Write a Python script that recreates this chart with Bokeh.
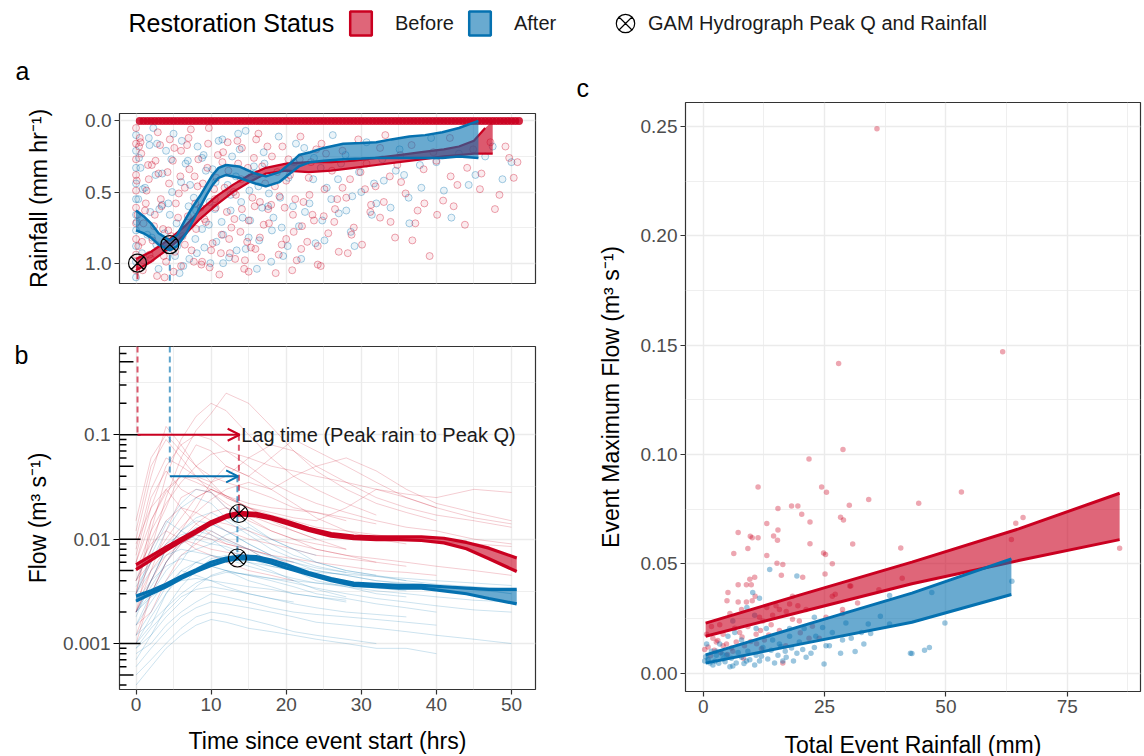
from bokeh.plotting import figure
from bokeh.layouts import column, row
from bokeh.models import (Range1d, FixedTicker, NumeralTickFormatter, CustomJSTickFormatter,
                          Label, Legend, LegendItem, Arrow, OpenHead, LinearAxis)
from bokeh.embed import file_html
from bokeh.resources import INLINE

FONT = "Liberation Sans"
RED = "#CA0020"
BLUE = "#0571B0"

# ---------------- data ----------------
status_labels = ["Before", "After"]

# panel a: rainfall intensity (mm/hr) vs hours since event start
rain_before_t = [
    0.1, 0.3, 0.6, 0.9, 1.2, 1.6, 2.0, 2.4, 2.9, 3.3,
    3.8, 4.2, 4.7, 5.1, 5.6, 6.0, 6.5, 7.0, 7.4, 7.9,
    8.3, 8.8, 9.3, 9.7, 10.2, 10.7, 11.1, 11.6, 12.1, 12.5,
    13.0, 13.5, 13.9, 14.4, 14.9, 15.3, 15.8, 16.3, 16.7, 17.2,
    17.7, 18.1, 18.6, 19.1, 19.5, 20.0, 20.5, 20.9, 21.4, 21.9,
    22.3, 22.8, 23.3, 23.7, 24.2, 24.7, 25.1, 25.6, 26.1, 26.5,
    27.0, 27.5, 28.0, 28.5, 29.0, 29.6, 30.1, 30.7, 31.3, 31.9,
    32.5, 33.2, 33.8, 34.5, 35.2, 35.9, 36.7, 37.5, 38.3, 39.1,
    40.0, 40.9, 41.8, 42.8, 43.8, 44.9, 46.0, 47.2, 48.4, 49.7,
    0.2, 0.7, 1.4, 2.2, 3.0, 3.7, 4.5, 5.3, 6.2, 7.1,
    8.0, 8.9, 9.8, 10.6, 11.5, 12.4, 13.3, 14.1, 15.0, 15.9,
    16.8, 17.6, 18.5, 19.4, 20.3, 21.2, 22.1, 23.0, 24.0, 25.0,
    0.4, 1.0, 1.8, 2.6, 3.4, 4.3, 5.0, 5.9, 6.8, 7.7,
    8.6, 9.5, 10.4, 11.3, 12.2, 13.1, 14.0, 14.8, 15.7, 16.5,
    0.0, 0.0, 0.0, 0.0, 0.0, 0.0, 0.0, 0.0, 0.0, 0.0,
    0.5, 1.3, 2.1, 2.8, 3.6, 4.4, 5.2, 6.0, 6.9, 7.8,
    8.7, 9.6, 10.5, 11.4, 12.3, 13.2, 14.1, 15.0, 16.0, 17.0,
    18.0, 19.0, 20.0, 21.0, 22.0, 23.1, 24.2, 25.3, 26.4, 27.5,
    28.7, 29.9, 31.2, 32.5, 33.9, 35.3, 36.8, 38.4, 40.1, 41.9,
    0.8, 1.7, 2.5, 3.2, 4.0, 4.9, 5.7, 6.5, 7.3, 8.2,
    9.1, 10.0, 10.9, 11.8, 12.7, 13.6, 14.5, 15.5, 16.5, 17.5,
    18.8, 19.8, 20.8, 21.8, 23.5, 24.6, 26.8, 28.2, 30.5, 33.0,
    34.8, 37.2, 39.6, 42.3, 44.1, 45.8, 47.8, 49.2, 50.3, 50.8,
]
rain_before_mm = [
    0.42, 0.88, 0.15, 1.05, 0.63, 0.31, 0.97, 0.74, 0.08, 0.55,
    1.10, 0.36, 0.81, 0.19, 0.68, 1.02, 0.47, 0.12, 0.91, 0.58,
    0.27, 0.99, 0.71, 0.05, 0.86, 0.40, 1.08, 0.22, 0.64, 0.93,
    0.50, 0.14, 0.78, 1.04, 0.33, 0.89, 0.60, 0.09, 0.96, 0.44,
    0.72, 0.25, 1.07, 0.53, 0.18, 0.83, 0.38, 0.66, 0.98, 0.11,
    0.57, 0.85, 0.29, 0.70, 1.01, 0.16, 0.48, 0.79, 0.35, 0.62,
    0.92, 0.21, 0.54, 0.41, 0.75, 0.13, 0.87, 0.30, 0.59, 0.46,
    0.68, 0.10, 0.39, 0.82, 0.24, 0.51, 0.17, 0.63, 0.34, 0.95,
    0.28, 0.56, 0.12, 0.45, 0.73, 0.20, 0.37, 0.15, 0.52, 0.26,
    0.66, 0.23, 0.49, 0.84, 0.37, 0.95, 0.13, 0.58, 0.81, 0.34,
    0.76, 0.44, 1.03, 0.61, 0.29, 0.83, 0.52, 0.19, 0.70, 0.90,
    0.32, 0.62, 0.46, 0.87, 0.27, 0.55, 0.74, 0.40, 0.20, 0.67,
    0.18, 0.72, 0.94, 0.28, 0.60, 0.77, 1.06, 0.39, 0.17, 0.99,
    0.61, 0.33, 0.48, 0.93, 0.15, 0.69, 0.41, 0.85, 0.26, 0.57,
    0.05, 0.16, 0.27, 0.38, 0.49, 0.61, 0.72, 0.83, 0.94, 1.05,
    0.12, 0.58, 0.31, 1.09, 0.76, 0.44, 0.92, 0.21, 0.67, 0.39,
    1.01, 0.16, 0.55, 0.80, 0.35, 0.97, 0.62, 1.06, 0.13, 0.73,
    0.59, 0.94, 0.42, 0.78, 0.90, 0.52, 0.88, 0.23, 0.71, 0.47,
    0.80, 0.36, 0.64, 0.19, 0.71, 0.43, 0.84, 0.58, 0.66, 0.39,
    0.85, 0.41, 0.66, 0.17, 0.99, 0.28, 0.51, 0.87, 0.06, 0.46,
    0.69, 0.91, 0.24, 0.47, 0.75, 0.30, 0.98, 0.54, 0.82, 0.18,
    0.36, 0.61, 1.05, 0.27, 0.66, 1.02, 0.55, 0.93, 0.48, 0.57,
    0.31, 0.72, 0.22, 0.60, 0.33, 0.48, 0.62, 0.18, 0.40, 0.29,
]
rain_after_t = [
    0.1, 0.4, 0.8, 1.2, 1.7, 2.1, 2.6, 3.0, 3.5, 4.0,
    4.5, 5.0, 5.5, 6.0, 6.6, 7.1, 7.7, 8.2, 8.8, 9.3,
    9.9, 10.5, 11.0, 11.6, 12.2, 12.8, 13.4, 14.0, 14.6, 15.2,
    15.8, 16.4, 17.0, 17.7, 18.3, 19.0, 19.6, 20.3, 21.0, 21.7,
    22.4, 23.1, 23.9, 24.6, 25.4, 26.2, 27.0, 27.9, 28.8, 29.7,
    30.7, 31.7, 32.8, 33.9, 35.1, 36.4, 37.8, 39.3, 41.0, 43.0,
    45.2, 47.5, 50.0, 0.3, 1.0, 1.9, 2.8, 3.8, 4.8, 5.8,
    6.9, 8.0, 9.1, 10.2, 11.4, 12.6, 13.8, 15.0, 16.3, 17.6,
    0.0, 0.0, 0.0, 0.0, 0.0, 0.0, 0.0, 0.0, 0.0, 0.0,
    0.6, 1.5, 2.3, 3.1, 3.9, 4.7, 5.4, 6.3, 7.2, 8.1,
    9.0, 9.8, 10.7, 11.5, 12.4, 13.3, 14.2, 15.1, 16.1, 17.1,
    18.1, 19.2, 20.2, 21.3, 22.5, 23.6, 24.8, 26.0, 27.3, 28.6,
    30.0, 31.4, 33.0, 34.6, 36.3, 38.0, 40.0, 42.0, 44.3, 46.5,
    0.9, 1.8, 2.7, 3.5, 4.3, 5.2, 6.1, 7.0, 7.9, 8.8,
    9.7, 10.6, 11.6, 12.6, 13.6, 14.6, 15.7, 16.8, 18.0, 19.4,
    20.9, 22.0, 23.7, 25.1, 26.9, 28.0, 29.1, 32.0, 35.7, 48.8,
]
rain_after_mm = [
    0.71, 0.26, 0.93, 0.47, 0.12, 0.82, 0.38, 1.04, 0.59, 0.21,
    0.66, 0.09, 0.88, 0.43, 0.30, 0.97, 0.54, 0.18, 0.76, 0.35,
    1.00, 0.62, 0.14, 0.80, 0.45, 0.25, 0.91, 0.57, 0.07, 0.70,
    0.37, 0.84, 0.22, 0.51, 0.68, 0.11, 0.95, 0.40, 0.29, 0.74,
    0.19, 0.58, 0.86, 0.33, 0.47, 0.10, 0.65, 0.24, 0.53, 0.36,
    0.15, 0.44, 0.27, 0.61, 0.20, 0.72, 0.31, 0.12, 0.49, 0.23,
    0.38, 0.18, 0.29, 0.55, 0.98, 0.64, 0.16, 0.79, 0.50, 1.07,
    0.28, 0.63, 0.89, 0.34, 0.71, 0.52, 0.20, 0.82, 0.46, 0.60,
    0.10, 0.21, 0.33, 0.44, 0.55, 0.66, 0.77, 0.88, 0.99, 1.10,
    0.33, 0.80, 0.05, 0.62, 0.90, 0.27, 0.72, 1.02, 0.45, 0.93,
    0.24, 0.57, 0.85, 0.13, 0.96, 0.39, 0.68, 0.49, 1.04, 0.30,
    0.77, 0.54, 0.88, 0.16, 0.64, 0.41, 0.70, 0.55, 0.30, 0.78,
    0.50, 0.66, 0.42, 0.35, 0.54, 0.47, 0.29, 0.68, 0.45, 0.25,
    0.48, 0.17, 0.87, 0.37, 0.58, 0.95, 0.14, 0.60, 0.83, 0.26,
    0.73, 0.43, 1.00, 0.63, 0.09, 0.90, 0.32, 0.61, 0.99, 0.75,
    0.60, 0.97, 0.26, 0.84, 0.41, 0.63, 0.88, 0.58, 0.38, 0.41,
]
# hours with zero rainfall recorded (dense row at 0)
zero_rain_hours = [
    0.5, 1.0, 1.5, 2.0, 2.5, 3.0, 3.5, 4.0, 4.5, 5.0, 5.5, 6.0, 6.5, 7.0, 7.5, 8.0, 8.5,
    9.0, 9.5, 10.0, 10.5, 11.0, 11.5, 12.0, 12.5, 13.0, 13.5, 14.0, 14.5, 15.0, 15.5, 16.0,
    16.5, 17.0, 17.5, 18.0, 18.5, 19.0, 19.5, 20.0, 20.5, 21.0, 21.5, 22.0, 22.5, 23.0, 23.5,
    24.0, 24.5, 25.0, 25.5, 26.0, 26.5, 27.0, 27.5, 28.0, 28.5, 29.0, 29.5, 30.0, 30.5, 31.0,
    31.5, 32.0, 32.5, 33.0, 33.5, 34.0, 34.5, 35.0, 35.5, 36.0, 36.5, 37.0, 37.5, 38.0, 38.5,
    39.0, 39.5, 40.0, 40.5, 41.0, 41.5, 42.0, 42.5, 43.0, 43.5, 44.0, 44.5, 45.0, 45.5, 46.0,
    46.5, 47.0, 47.5, 48.0, 48.5, 49.0, 49.5, 50.0, 50.5, 51.0,
]

# GAM of rainfall (confidence band edges)
gam_rain_before_t = [0, 2, 4.5, 6.5, 8.5, 10.7, 12.9, 15.1, 17.3, 20, 23, 26, 29, 32, 35, 38, 41, 43, 45, 46.5, 47.5]
gam_rain_before_lo = [0.97, 0.92, 0.83, 0.74, 0.63, 0.53, 0.45, 0.38, 0.33, 0.30, 0.29, 0.29, 0.28, 0.26, 0.24, 0.22, 0.20, 0.18, 0.14, 0.05, 0.0]
gam_rain_before_hi = [1.05, 0.99, 0.89, 0.80, 0.69, 0.59, 0.50, 0.43, 0.37, 0.35, 0.36, 0.35, 0.33, 0.31, 0.29, 0.27, 0.25, 0.24, 0.23, 0.23, 0.23]
gam_rain_after_t = [0, 1, 2, 3, 4.5, 5.5, 6.7, 7.6, 8.5, 9.4, 10.2, 11.0, 12, 13.7, 15.9, 17.3, 19.1, 20.5, 21.7, 23.2,
                    25, 27.6, 30, 32, 34, 36.4, 38.5, 40.8, 43, 45.6]
gam_rain_after_lo = [0.63, 0.67, 0.72, 0.79, 0.84, 0.80, 0.68, 0.60, 0.53, 0.45, 0.38, 0.33, 0.31, 0.32, 0.37, 0.39, 0.36, 0.30,
                     0.24, 0.22, 0.19, 0.16, 0.155, 0.15, 0.13, 0.11, 0.10, 0.08, 0.05, 0.0]
gam_rain_after_hi = [0.77, 0.79, 0.82, 0.87, 0.91, 0.88, 0.79, 0.70, 0.61, 0.52, 0.45, 0.40, 0.38, 0.40, 0.44, 0.46, 0.43, 0.37,
                     0.32, 0.29, 0.28, 0.27, 0.265, 0.26, 0.26, 0.26, 0.26, 0.26, 0.25, 0.26]
peak_rain_t = [0.2, 4.5]
peak_rain_mm = [1.0, 0.87]

# panel b: event hydrographs (m3/s)
hyd_t = [0, 2, 4, 6, 8, 10, 12, 15, 18, 21, 24, 28, 32, 36, 40, 45, 50]
hyd_before = [
    [0.003, 0.012, 0.04, 0.09, 0.15, 0.2, 0.17, 0.1, 0.06, 0.04, 0.03, 0.022, 0.017],
    [0.006, 0.02, 0.05, 0.08, 0.1, 0.09, 0.07, 0.05, 0.035, 0.027, 0.022, 0.018, 0.015, 0.013, 0.012, 0.01, 0.009],
    [0.002, 0.005, 0.012, 0.025, 0.03, 0.028, 0.022, 0.016, 0.012, 0.01, 0.008, 0.007, 0.006],
    [0.008, 0.03, 0.06, 0.05, 0.04, 0.035, 0.04, 0.06, 0.08, 0.07, 0.05, 0.035, 0.025, 0.02, 0.017, 0.015, 0.013],
    [0.001, 0.003, 0.006, 0.01, 0.014, 0.018, 0.02, 0.017, 0.014, 0.012, 0.01],
    [0.004, 0.008, 0.015, 0.02, 0.018, 0.015, 0.012, 0.01, 0.009, 0.008, 0.007, 0.0065, 0.006, 0.0055],
    [0.01, 0.04, 0.12, 0.08, 0.05, 0.035, 0.025, 0.02, 0.016],
    [0.002, 0.004, 0.008, 0.012, 0.02, 0.035, 0.05, 0.04, 0.03, 0.04, 0.05, 0.06, 0.045, 0.03, 0.022, 0.018, 0.015],
    [0.005, 0.009, 0.012, 0.01, 0.008, 0.007, 0.006, 0.005, 0.0045, 0.004],
    [0.003, 0.015, 0.03, 0.02, 0.014, 0.011, 0.009, 0.008, 0.007, 0.0065, 0.006, 0.0055, 0.005, 0.0048, 0.0045],
    [0.0015, 0.002, 0.004, 0.007, 0.009, 0.012, 0.01, 0.008, 0.006, 0.005],
    [0.007, 0.025, 0.045, 0.03, 0.025, 0.03, 0.025, 0.02, 0.018, 0.016, 0.015, 0.02, 0.03, 0.025, 0.02, 0.016, 0.014],
    [0.004, 0.006, 0.01, 0.016, 0.025, 0.03, 0.026, 0.02, 0.015, 0.012, 0.01, 0.008],
    [0.012, 0.05, 0.09, 0.06, 0.04, 0.028, 0.02, 0.015, 0.012, 0.01, 0.009, 0.008],
    [0.002, 0.008, 0.025, 0.06, 0.11, 0.16, 0.25, 0.2, 0.12, 0.07, 0.045, 0.03, 0.022, 0.018, 0.015],
    [0.009, 0.02, 0.03, 0.04, 0.035, 0.03, 0.026, 0.022, 0.02, 0.019, 0.018, 0.016, 0.014],
    [0.0012, 0.003, 0.006, 0.009, 0.011, 0.01, 0.009, 0.008, 0.007],
    [0.005, 0.012, 0.022, 0.035, 0.05, 0.065, 0.07, 0.06, 0.05, 0.045, 0.04, 0.035, 0.03, 0.027, 0.025, 0.03, 0.028],
    [0.003, 0.006, 0.009, 0.013, 0.018, 0.024, 0.03, 0.035, 0.03, 0.022, 0.016, 0.012, 0.01, 0.009],
    [0.015, 0.06, 0.1, 0.07, 0.05, 0.04, 0.035, 0.03, 0.025, 0.02, 0.018, 0.015],
    [0.002, 0.004, 0.007, 0.009, 0.012, 0.015, 0.014, 0.012, 0.01, 0.009, 0.008, 0.007, 0.0065, 0.006, 0.0055, 0.005, 0.0045],
    [0.004, 0.01, 0.02, 0.045, 0.08, 0.07, 0.05, 0.04, 0.06, 0.09, 0.07, 0.05, 0.035, 0.025, 0.02],
    [0.0025, 0.005, 0.008, 0.01, 0.009, 0.008, 0.0075, 0.007, 0.0065, 0.006],
    [0.006, 0.015, 0.028, 0.04, 0.038, 0.032, 0.026, 0.02, 0.017, 0.015, 0.013, 0.012, 0.011, 0.01, 0.0095, 0.009, 0.0085],
]
hyd_after = [
    [0.002, 0.004, 0.008, 0.012, 0.015, 0.014, 0.012, 0.009, 0.007, 0.006, 0.005, 0.0045, 0.004, 0.0038, 0.0036, 0.0034, 0.003],
    [0.001, 0.0015, 0.003, 0.005, 0.006, 0.0055, 0.005, 0.004, 0.0035, 0.003, 0.0028, 0.0025],
    [0.003, 0.006, 0.012, 0.02, 0.025, 0.022, 0.016, 0.012, 0.009, 0.007, 0.006, 0.005, 0.0045],
    [0.0008, 0.001, 0.0015, 0.002, 0.0025, 0.003, 0.0028, 0.0025, 0.0022, 0.002, 0.0019, 0.0018, 0.0017, 0.0016, 0.0015],
    [0.002, 0.003, 0.005, 0.007, 0.008, 0.009, 0.0085, 0.007, 0.006, 0.0055, 0.005, 0.0045, 0.004, 0.0037, 0.0035, 0.0033, 0.003],
    [0.0015, 0.0025, 0.004, 0.006, 0.01, 0.014, 0.012, 0.009, 0.007, 0.0055, 0.0045],
    [0.0005, 0.0007, 0.001, 0.0014, 0.0018, 0.002, 0.0019, 0.0017, 0.0015, 0.0013, 0.0012, 0.0011, 0.001],
    [0.003, 0.005, 0.007, 0.008, 0.0075, 0.007, 0.0065, 0.006, 0.0055, 0.005, 0.0048, 0.0046, 0.0044, 0.0042, 0.004, 0.0038, 0.0036],
    [0.0012, 0.002, 0.0035, 0.005, 0.0045, 0.004, 0.0035, 0.003, 0.0027, 0.0025],
    [0.004, 0.008, 0.015, 0.012, 0.01, 0.009, 0.011, 0.013, 0.01, 0.008, 0.006, 0.005, 0.0045, 0.004],
    [0.0006, 0.0009, 0.0013, 0.0018, 0.0022, 0.0025, 0.0024, 0.0022, 0.002, 0.0018, 0.0016, 0.0015, 0.0014, 0.0013, 0.0012, 0.0011, 0.001],
    [0.002, 0.0035, 0.006, 0.009, 0.011, 0.01, 0.008, 0.0065, 0.0055, 0.005, 0.0045, 0.004],
    [0.0009, 0.0012, 0.0018, 0.0025, 0.0035, 0.0045, 0.005, 0.0045, 0.004, 0.0035, 0.003, 0.0027, 0.0024, 0.0022, 0.002],
    [0.0025, 0.004, 0.0055, 0.0065, 0.006, 0.0055, 0.005, 0.0045, 0.0042, 0.004, 0.0038, 0.0036, 0.0034, 0.0032],
    [0.0015, 0.003, 0.006, 0.01, 0.013, 0.012, 0.01, 0.008, 0.006, 0.005, 0.004, 0.0035, 0.003, 0.0028],
    [0.0004, 0.0006, 0.0009, 0.0012, 0.0015, 0.0017, 0.0016, 0.0014, 0.0013, 0.0012, 0.0011, 0.001, 0.0009, 0.0009, 0.0008],
    [0.003, 0.007, 0.014, 0.022, 0.03, 0.028, 0.02, 0.014, 0.01, 0.008, 0.007],
    [0.001, 0.0018, 0.003, 0.0045, 0.006, 0.007, 0.0065, 0.0055, 0.0048, 0.0042, 0.0038, 0.0035, 0.0032, 0.003, 0.0028, 0.0026, 0.0025],
    [0.002, 0.0028, 0.0035, 0.004, 0.0042, 0.004, 0.0038, 0.0035, 0.0033, 0.003, 0.0028, 0.0026],
    [0.0007, 0.0012, 0.0022, 0.0035, 0.005, 0.0065, 0.007, 0.006, 0.005, 0.004, 0.0033, 0.0028],
    [0.0035, 0.006, 0.009, 0.011, 0.012, 0.011, 0.0095, 0.008, 0.0068, 0.006, 0.0053, 0.0048, 0.0044, 0.004, 0.0037, 0.0035, 0.0033],
    [0.0009, 0.0014, 0.002, 0.0028, 0.0033, 0.0035, 0.0033, 0.003, 0.0027, 0.0024, 0.0022, 0.002, 0.0019, 0.0018],
    [0.0018, 0.004, 0.008, 0.012, 0.016, 0.018, 0.015, 0.011, 0.008, 0.0065, 0.0055, 0.0048],
    [0.0012, 0.0016, 0.0022, 0.003, 0.0038, 0.0044, 0.0048, 0.0046, 0.0042, 0.0038, 0.0034, 0.003, 0.0027, 0.0025, 0.0023, 0.0021, 0.002],
]
gam_q_t = [0, 2, 4, 6, 8, 10, 12, 13.7, 16, 18, 20, 23, 26, 29, 32, 35, 38, 41, 44, 47, 50.7]
gam_q_before_lo = [0.0051, 0.0063, 0.0078, 0.0095, 0.0115, 0.0139, 0.0161, 0.0171, 0.0167, 0.0156, 0.0141,
                   0.0121, 0.0107, 0.0101, 0.0099, 0.0099, 0.0097, 0.0092, 0.0081, 0.0065, 0.0049]
gam_q_before_hi = [0.0057, 0.0069, 0.0084, 0.0101, 0.0121, 0.0147, 0.0169, 0.0181, 0.0177, 0.0164, 0.0149,
                   0.0127, 0.0113, 0.0107, 0.0105, 0.0105, 0.0105, 0.0102, 0.0093, 0.0082, 0.0066]
gam_q_after_lo = [0.00255, 0.0030, 0.0035, 0.0042, 0.0049, 0.0056, 0.0062, 0.0065, 0.0064, 0.0059, 0.0053,
                  0.0046, 0.0040, 0.0036, 0.0035, 0.0034, 0.0034, 0.0032, 0.0030, 0.0027, 0.0024]
gam_q_after_hi = [0.00285, 0.0032, 0.0037, 0.0044, 0.0051, 0.0060, 0.0066, 0.0069, 0.0068, 0.0063, 0.0057,
                  0.0048, 0.0042, 0.0038, 0.0037, 0.0036, 0.0036, 0.0035, 0.0034, 0.0033, 0.0033]
peak_q_t = [13.7, 13.5]
peak_q = [0.0176, 0.0066]
lag_arrow_q = [0.1, 0.04]

# panel c: event totals
event_rain_before = [
    0.3, 2.0, 4.1, 4.8, 6.1, 6.8, 8.5, 9.2, 10.9, 12.3,
    14.0, 15.7, 16.4, 15.0, 17.1, 18.4, 19.8, 21.8, 23.9, 25.3,
    28.7, 28.7, 31.8, 27.2, 41.0, 36.2, 30.4, 26.6, 25.2, 20.5,
    16.1, 15.2, 13.1, 16.4, 10.6, 9.6, 8.9, 9.9, 7.2, 5.1,
    4.9, 7.2, 8.9, 10.1, 10.7, 6.3, 7.2, 9.2, 9.7, 10.1,
    11.3, 13.1, 14.5, 15.3, 15.4, 15.4, 18.2, 19.5, 20.3, 22.0,
    22.0, 11.3, 24.4, 25.4, 30.1, 34.1, 44.4, 28.3, 28.9, 30.8,
    40.7, 24.8, 25.1, 30.2, 18.4, 17.8, 15.7, 14.3, 13.1, 11.6,
    7.9, 5.5, 3.4, 1.7, 0.7, 2.7, 4.1, 7.5, 12.6, 19.5,
    21.2, 26.6, 53.2, 64.4, 65.9, 63.5, 85.8, 61.7, 35.8, 27.9,
    28.8, 21.8, 1.0, 2.3, 3.0, 5.8, 6.5, 8.0, 11.0, 13.5,
    1.5, 3.6, 5.0, 9.8, 12.0, 17.0, 20.0, 22.5, 8.3, 11.8,
]
event_q_before = [
    0.0108, 0.0160, 0.0178, 0.0134, 0.0100, 0.0143, 0.0125, 0.0213, 0.0178, 0.0239,
    0.0221, 0.0195, 0.0047, 0.0308, 0.0282, 0.0247, 0.0239, 0.0160, 0.0160, 0.0256,
    0.0291, 0.0273, 0.0321, 0.0361, 0.0434, 0.0382, 0.0399, 0.0500, 0.0543, 0.0439,
    0.0448, 0.0503, 0.0538, 0.0497, 0.0439, 0.0430, 0.0404, 0.0404, 0.0404, 0.0369,
    0.0331, 0.0326, 0.0326, 0.0331, 0.0352, 0.0547, 0.0643, 0.0570, 0.0626, 0.0619,
    0.0619, 0.0685, 0.0628, 0.0608, 0.0655, 0.0753, 0.0765, 0.0765, 0.0727, 0.0692,
    0.0592, 0.0852, 0.0852, 0.0828, 0.0768, 0.0794, 0.0777, 0.0713, 0.0701, 0.0591,
    0.0573, 0.0550, 0.0454, 0.0399, 0.0352, 0.0317, 0.0291, 0.0265, 0.0300, 0.0256,
    0.0291, 0.0273, 0.0221, 0.0213, 0.0178, 0.0143, 0.0125, 0.0186, 0.0152, 0.0308,
    0.0291, 0.0352, 0.0829, 0.0686, 0.0712, 0.0612, 0.0572, 0.1470, 0.2490, 0.1416,
    0.1023, 0.0980, 0.0120, 0.0105, 0.0150, 0.0115, 0.0205, 0.0165, 0.0135, 0.0175,
    0.0080, 0.0095, 0.0085, 0.0145, 0.0112, 0.0125, 0.0185, 0.0215, 0.0068, 0.0195,
]
event_rain_after = [
    49.8, 42.7, 45.6, 46.6, 47.1, 63.6, 38.4, 38.4, 36.5, 34.5,
    33.1, 32.6, 31.3, 28.3, 28.7, 24.9, 25.3, 24.6, 22.9, 22.2,
    21.2, 22.9, 19.3, 18.6, 16.4, 16.9, 15.4, 13.7, 19.3, 11.6,
    10.2, 9.0, 10.6, 13.0, 14.3, 12.3, 10.9, 8.9, 6.8, 5.5,
    4.1, 2.7, 1.7, 0.7, 1.4, 3.4, 5.1, 6.5, 7.9, 9.2,
    11.6, 13.3, 15.7, 17.8, 19.8, 20.8, 23.2, 26.6, 29.4, 17.8,
    10.9, 6.1, 2.7, 4.8, 7.9, 0.3, 2.0, 6.1, 10.6, 14.7,
    17.1, 0.5, 1.0, 2.4, 3.2, 3.9, 4.5, 5.8, 7.2, 8.4,
    9.6, 12.0, 14.0, 16.0, 18.2, 20.5, 26.0, 30.5, 34.0, 43.0,
]
event_q_after = [
    0.0230, 0.0091, 0.0105, 0.0117, 0.0369, 0.0421, 0.0355, 0.0225, 0.0260, 0.0181,
    0.0134, 0.0186, 0.0099, 0.0091, 0.0152, 0.0042, 0.0125, 0.0209, 0.0117, 0.0091,
    0.0073, 0.0256, 0.0091, 0.0056, 0.0056, 0.0100, 0.0082, 0.0474, 0.0444, 0.0343,
    0.0369, 0.0300, 0.0265, 0.0204, 0.0152, 0.0117, 0.0082, 0.0056, 0.0047, 0.0030,
    0.0065, 0.0082, 0.0100, 0.0134, 0.0047, 0.0134, 0.0169, 0.0186, 0.0152, 0.0100,
    0.0056, 0.0065, 0.0134, 0.0169, 0.0143, 0.0204, 0.0169, 0.0186, 0.0230, 0.0204,
    0.0204, 0.0239, 0.0100, 0.0082, 0.0073, 0.0056, 0.0038, 0.0033, 0.0038, 0.0047,
    0.0073, 0.0075, 0.0062, 0.0055, 0.0045, 0.0088, 0.0052, 0.0068, 0.0095, 0.0044,
    0.0062, 0.0078, 0.0105, 0.0122, 0.0115, 0.0108, 0.0125, 0.0160, 0.0225, 0.0090,
]
fit_before_x = [0.5, 20, 43, 65, 85.8]
fit_before_lo = [0.0169, 0.0280, 0.0409, 0.0515, 0.0611]
fit_before_hi = [0.0229, 0.0358, 0.0508, 0.0660, 0.0823]
fit_after_x = [0.5, 20, 43, 63.5]
fit_after_lo = [0.0046, 0.0133, 0.0233, 0.0360]
fit_after_hi = [0.0084, 0.0214, 0.0366, 0.0523]

x_ticks_hours = [0, 10, 20, 30, 40, 50]
x_minor_hours = [5, 15, 25, 35, 45]


# ---------------- helpers ----------------
def style(p):
    p.background_fill_color = "white"
    p.border_fill_color = "white"
    p.outline_line_color = "#333333"
    p.outline_line_width = 1.2
    for g in p.grid:
        g.grid_line_color = "#EBEBEB"
        g.grid_line_width = 1.4
        g.minor_grid_line_color = "#EBEBEB"
        g.minor_grid_line_width = 0.8
    for ax in p.axis:
        ax.axis_line_color = None
        ax.major_tick_line_color = "#333333"
        ax.major_tick_line_width = 1.2
        ax.major_tick_out = 5
        ax.major_tick_in = 0
        ax.minor_tick_line_color = None
        ax.major_label_text_font = FONT
        ax.major_label_text_font_size = "19px"
        ax.major_label_text_color = "#4D4D4D"
        ax.major_label_standoff = 3
        ax.axis_label_text_font = FONT
        ax.axis_label_text_font_size = "23px"
        ax.axis_label_text_font_style = "normal"
        ax.axis_label_text_color = "black"


def letter_title(p, text, offset, standoff, valign):
    p.title.text = text
    p.title.align = "left"
    p.title.offset = offset
    p.title.standoff = standoff
    p.title.vertical_align = valign
    p.title.text_font = FONT
    p.title.text_font_size = "25px"
    p.title.text_font_style = "normal"
    p.title.text_color = "black"


# ---------------- legend strip ----------------
lf = figure(width=1144, height=52, x_range=Range1d(0, 1), y_range=Range1d(0, 1),
            x_axis_location=None, y_axis_location=None, min_border=0,
            toolbar_location=None, output_backend="svg")
lf.grid.visible = False
lf.outline_line_color = None
# legend proxies (placed outside the visible range)
r_leg_before = lf.quad(left=[5], right=[6], top=[6], bottom=[5], fill_color=RED, fill_alpha=0.6,
                       line_color=RED, line_width=2.5)
r_leg_after = lf.quad(left=[5], right=[6], top=[6], bottom=[5], fill_color=BLUE, fill_alpha=0.6,
                      line_color=BLUE, line_width=2.5)
r_leg_peak = lf.scatter(x=[5], y=[5], marker="circle_x", size=18, fill_color=None,
                        line_color="black", line_width=1.2)
lf.add_layout(Label(x=128, y=30, x_units="screen", y_units="screen", text="Restoration Status",
                    text_font=FONT, text_font_size="25px", text_baseline="middle", text_color="black"))
leg1 = Legend(items=[LegendItem(label=status_labels[0], renderers=[r_leg_before]),
                     LegendItem(label=status_labels[1], renderers=[r_leg_after])],
              orientation="horizontal", location=(347, 14), glyph_width=27, glyph_height=30,
              label_standoff=21, spacing=12, padding=0, margin=0, border_line_color=None,
              background_fill_alpha=0, label_text_font=FONT, label_text_font_size="20px",
              label_text_color="#1A1A1A")
leg2 = Legend(items=[LegendItem(label="GAM Hydrograph Peak Q and Rainfall", renderers=[r_leg_peak])],
              orientation="horizontal", location=(602, 6), glyph_width=46, glyph_height=46,
              label_standoff=0, padding=0, margin=0, border_line_color=None,
              background_fill_alpha=0, label_text_font=FONT, label_text_font_size="20px",
              label_text_color="#1A1A1A")
lf.add_layout(leg1)
lf.add_layout(leg2)

# ---------------- panel a ----------------
pa = figure(title="a", frame_width=416, frame_height=170, min_border_left=119, min_border_right=18,
            min_border_top=61, min_border_bottom=17, x_range=Range1d(-2.2, 53.2),
            y_range=Range1d(1.143, -0.052), x_axis_location=None,
            toolbar_location=None, output_backend="svg")
style(pa)
# second (blank) line lifts the panel letter up to the reference position
letter_title(pa, "a\n ", -104, 2, "bottom")
pa.xgrid.ticker = FixedTicker(ticks=x_ticks_hours, minor_ticks=x_minor_hours)
pa.yaxis.ticker = FixedTicker(ticks=[0, 0.5, 1.0], minor_ticks=[0.25, 0.75])
pa.yaxis.formatter = NumeralTickFormatter(format="0.0")
pa.yaxis.axis_label = "Rainfall (mm hr⁻¹)"
pa.yaxis.axis_label_standoff = 30

pa.scatter(rain_after_t, rain_after_mm, marker="circle", size=7, fill_color=BLUE, fill_alpha=0.08,
           line_color=BLUE, line_alpha=0.35)
pa.scatter(rain_before_t, rain_before_mm, marker="circle", size=7, fill_color=RED, fill_alpha=0.08,
           line_color=RED, line_alpha=0.35)
pa.scatter(zero_rain_hours, [0.0] * len(zero_rain_hours), marker="circle", size=8,
           fill_color=RED, fill_alpha=0.85, line_color=None)

pa.varea(x=gam_rain_before_t, y1=gam_rain_before_lo, y2=gam_rain_before_hi, fill_color=RED, fill_alpha=0.65)
pa.line(gam_rain_before_t[:-1], gam_rain_before_lo[:-1], line_color=RED, line_width=2.2)
pa.line(gam_rain_before_t, gam_rain_before_hi, line_color=RED, line_width=2.2)
pa.varea(x=gam_rain_after_t, y1=gam_rain_after_lo, y2=gam_rain_after_hi, fill_color=BLUE, fill_alpha=0.6)
pa.line(gam_rain_after_t, gam_rain_after_lo, line_color=BLUE, line_width=2.5)
pa.line(gam_rain_after_t, gam_rain_after_hi, line_color=BLUE, line_width=2.5)
pa.segment(x0=peak_rain_t, y0=peak_rain_mm, x1=peak_rain_t, y1=[1.143, 1.143],
           line_color=[RED, BLUE], line_alpha=0.7, line_width=2, line_dash="6 4")
pa.scatter(peak_rain_t, peak_rain_mm, marker="circle_x", size=18, fill_color=None,
           line_color="black", line_width=1.2)

# ---------------- panel b ----------------
pb = figure(frame_width=416, frame_height=343, min_border_left=119, min_border_right=18,
            min_border_top=46, min_border_bottom=67, x_range=Range1d(-2.2, 53.2),
            y_range=Range1d(0.000363, 0.70), y_axis_type="log",
            toolbar_location=None, output_backend="svg")
style(pb)
pb.xaxis.ticker = FixedTicker(ticks=x_ticks_hours, minor_ticks=x_minor_hours)
pb.yaxis.ticker = FixedTicker(ticks=[0.001, 0.01, 0.1], minor_ticks=[0.00316, 0.0316, 0.316])
pb.yaxis.formatter = CustomJSTickFormatter(code="return tick.toString();")
pb.yaxis.major_tick_line_color = "black"
pb.yaxis.major_tick_out = 6
pb.yaxis.axis_label = "Flow (m³ s⁻¹)"
pb.yaxis.axis_label_standoff = 9
pb.xaxis.axis_label = "Time since event start (hrs)"
pb.xaxis.axis_label_standoff = 14
# panel letter "b" drawn as a lone tick label on an outer axis
pb.add_layout(LinearAxis(ticker=FixedTicker(ticks=[0.574]),
                         formatter=CustomJSTickFormatter(code="return 'b';"),
                         axis_line_color=None, major_tick_line_color=None, minor_tick_line_color=None,
                         major_tick_in=0, major_tick_out=0,
                         major_label_text_font=FONT, major_label_text_font_size="25px",
                         major_label_text_color="black", major_label_standoff=-7), "left")

pb.multi_line(xs=[hyd_t[:len(v)] for v in hyd_before], ys=hyd_before, line_color=RED,
              line_alpha=0.2, line_width=1)
pb.multi_line(xs=[hyd_t[:len(v)] for v in hyd_after], ys=hyd_after, line_color=BLUE,
              line_alpha=0.2, line_width=1)

# log tick annotation (left side)
lt_y, lt_x1 = [], []
for dec in [0.0001, 0.001, 0.01, 0.1]:
    for m in range(1, 10):
        v = m * dec
        if 0.000363 <= v <= 0.70:
            lt_y.append(v)
            lt_x1.append(-2.2 + (2.8 if m == 1 else (1.86 if m == 5 else 0.93)))
pb.segment(x0=[-2.2] * len(lt_y), y0=lt_y, x1=lt_x1, y1=lt_y, line_color="black", line_width=1.5)

pb.varea(x=gam_q_t, y1=gam_q_before_lo, y2=gam_q_before_hi, fill_color=RED, fill_alpha=0.6)
pb.line(gam_q_t, gam_q_before_lo, line_color=RED, line_width=3.2)
pb.line(gam_q_t, gam_q_before_hi, line_color=RED, line_width=3.2)
pb.varea(x=gam_q_t, y1=gam_q_after_lo, y2=gam_q_after_hi, fill_color=BLUE, fill_alpha=0.6)
pb.line(gam_q_t, gam_q_after_lo, line_color=BLUE, line_width=3.2)
pb.line(gam_q_t, gam_q_after_hi, line_color=BLUE, line_width=3.2)

# lag-time guides
pb.segment(x0=peak_rain_t, y0=[0.70, 0.70], x1=peak_rain_t, y1=lag_arrow_q,
           line_color=[RED, BLUE], line_alpha=0.65, line_width=2, line_dash="6 4")
pb.segment(x0=peak_q_t, y0=lag_arrow_q, x1=peak_q_t, y1=peak_q,
           line_color=[RED, BLUE], line_alpha=0.65, line_width=2, line_dash="6 4")
for i, col in enumerate([RED, BLUE]):
    pb.add_layout(Arrow(end=OpenHead(size=12, line_color=col, line_width=2),
                        x_start=peak_rain_t[i], y_start=lag_arrow_q[i],
                        x_end=peak_q_t[i] + 0.1, y_end=lag_arrow_q[i],
                        line_color=col, line_width=2))
pb.add_layout(Label(x=14.0, y=lag_arrow_q[0], text="Lag time (Peak rain to Peak Q)",
                    text_font=FONT, text_font_size="20px", text_color="#1A1A1A",
                    text_baseline="middle"))
pb.scatter(peak_q_t, peak_q, marker="circle_x", size=18, fill_color=None,
           line_color="black", line_width=1.2)

# ---------------- panel c ----------------
pc = figure(title="c", frame_width=455, frame_height=589, min_border_left=132, min_border_right=4,
            min_border_top=50, min_border_bottom=65, x_range=Range1d(-3.65, 90.1),
            y_range=Range1d(-0.00837, 0.261), toolbar_location=None, output_backend="svg")
style(pc)
letter_title(pc, "c", -109, 2, "bottom")
pc.xaxis.ticker = FixedTicker(ticks=[0, 25, 50, 75], minor_ticks=[12.5, 37.5, 62.5, 87.5])
pc.yaxis.ticker = FixedTicker(ticks=[0, 0.05, 0.10, 0.15, 0.20, 0.25],
                              minor_ticks=[0.025, 0.075, 0.125, 0.175, 0.225])
pc.yaxis.formatter = NumeralTickFormatter(format="0.00")
pc.yaxis.axis_label = "Event Maximum Flow (m³ s⁻¹)"
pc.yaxis.axis_label_standoff = 14
pc.xaxis.axis_label = "Total Event Rainfall (mm)"
pc.xaxis.axis_label_standoff = 16

pc.scatter(event_rain_before, event_q_before, marker="circle", size=5.5, fill_color=RED,
           fill_alpha=0.35, line_color=None)
pc.scatter(event_rain_after, event_q_after, marker="circle", size=5.5, fill_color=BLUE,
           fill_alpha=0.4, line_color=None)
pc.varea(x=fit_before_x, y1=fit_before_lo, y2=fit_before_hi, fill_color=RED, fill_alpha=0.6)
pc.line(fit_before_x, fit_before_lo, line_color=RED, line_width=3)
pc.line(fit_before_x, fit_before_hi, line_color=RED, line_width=3)
pc.varea(x=fit_after_x, y1=fit_after_lo, y2=fit_after_hi, fill_color=BLUE, fill_alpha=0.6)
pc.line(fit_after_x, fit_after_lo, line_color=BLUE, line_width=3)
pc.line(fit_after_x, fit_after_hi, line_color=BLUE, line_width=3)

layout = column(lf, row(column(pa, pb), pc))
open("out.html", "w").write(file_html(layout, INLINE))
